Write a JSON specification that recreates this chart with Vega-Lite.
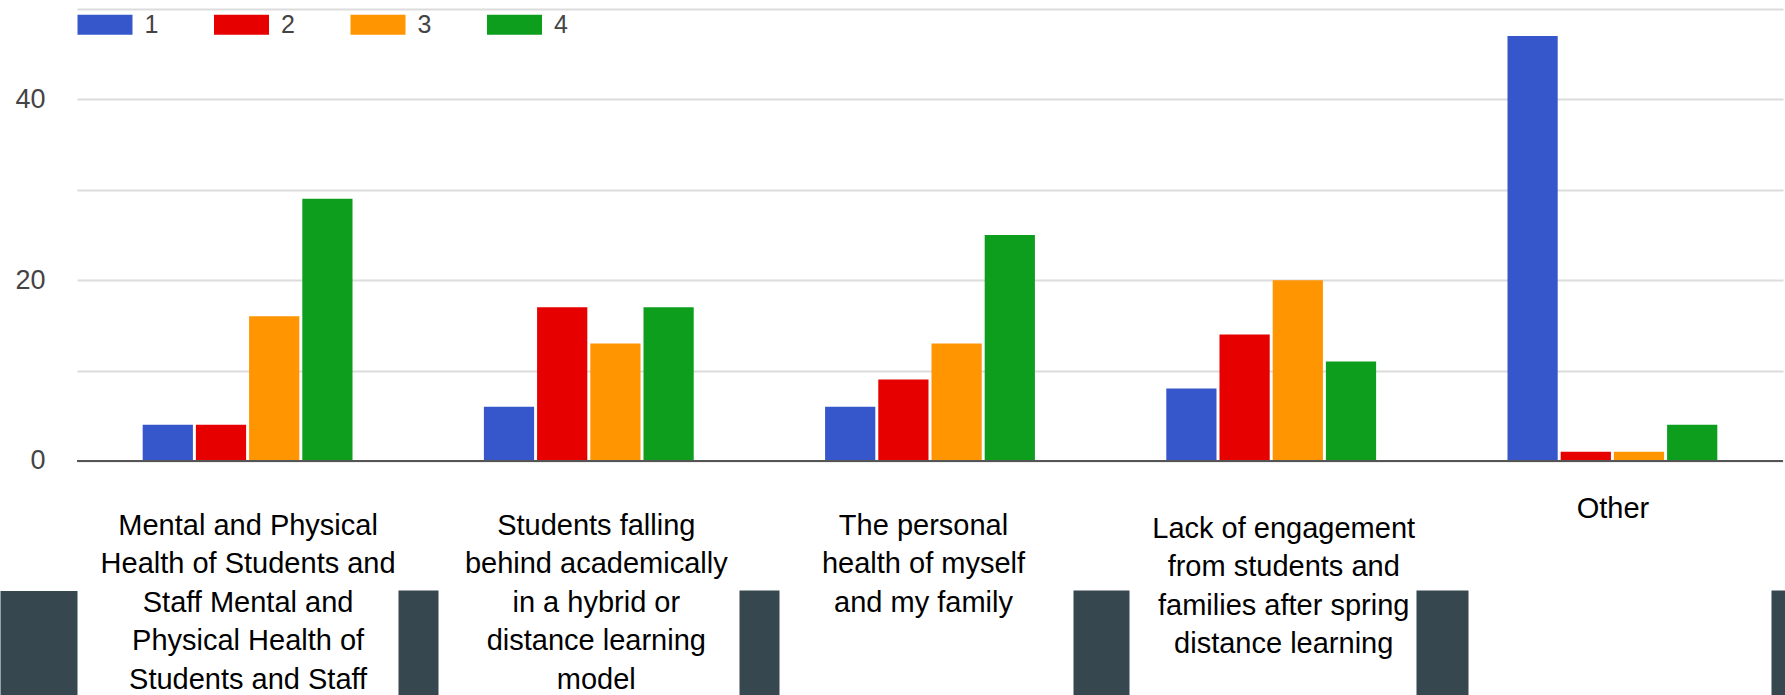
{
  "$schema": "https://vega.github.io/schema/vega-lite/v6.json",
  "width": 1706,
  "height": 686,
  "autosize": {"type": "none"},
  "padding": {"left": 77, "top": 9, "right": 2, "bottom": 0},
  "background": "white",
  "config": {
    "view": {"stroke": null},
    "font": "Liberation Sans"
  },
  "data": {
    "values": [
      {"cause": "Mental and Physical Health of Students and Staff Mental and Physical Health of Students and Staff", "rank": "1", "count": 4},
      {"cause": "Mental and Physical Health of Students and Staff Mental and Physical Health of Students and Staff", "rank": "2", "count": 4},
      {"cause": "Mental and Physical Health of Students and Staff Mental and Physical Health of Students and Staff", "rank": "3", "count": 16},
      {"cause": "Mental and Physical Health of Students and Staff Mental and Physical Health of Students and Staff", "rank": "4", "count": 29},
      {"cause": "Students falling behind academically in a hybrid or distance learning model", "rank": "1", "count": 6},
      {"cause": "Students falling behind academically in a hybrid or distance learning model", "rank": "2", "count": 17},
      {"cause": "Students falling behind academically in a hybrid or distance learning model", "rank": "3", "count": 13},
      {"cause": "Students falling behind academically in a hybrid or distance learning model", "rank": "4", "count": 17},
      {"cause": "The personal health of myself and my family", "rank": "1", "count": 6},
      {"cause": "The personal health of myself and my family", "rank": "2", "count": 9},
      {"cause": "The personal health of myself and my family", "rank": "3", "count": 13},
      {"cause": "The personal health of myself and my family", "rank": "4", "count": 25},
      {"cause": "Lack of engagement from students and families after spring distance learning", "rank": "1", "count": 8},
      {"cause": "Lack of engagement from students and families after spring distance learning", "rank": "2", "count": 14},
      {"cause": "Lack of engagement from students and families after spring distance learning", "rank": "3", "count": 20},
      {"cause": "Lack of engagement from students and families after spring distance learning", "rank": "4", "count": 11},
      {"cause": "Other", "rank": "1", "count": 47},
      {"cause": "Other", "rank": "2", "count": 1},
      {"cause": "Other", "rank": "3", "count": 1},
      {"cause": "Other", "rank": "4", "count": 4}
    ]
  },
  "layer": [
    {
      "mark": {"type": "bar"},
      "encoding": {
        "x": {
          "field": "cause",
          "type": "nominal",
          "sort": null,
          "scale": {"paddingInner": 0.385, "paddingOuter": 0.1925},
          "axis": {
            "orient": "bottom",
            "title": null,
            "domain": false,
            "offset": -105,
            "ticks": true,
            "tickOffset": 170.65,
            "tickSize": 105,
            "tickWidth": {
              "condition": [
                {"test": "datum.value === 'The personal health of myself and my family'", "value": 56},
                {"test": "datum.value === 'Lack of engagement from students and families after spring distance learning'", "value": 52},
                {"test": "datum.value === 'Other'", "value": 24}
              ],
              "value": 40
            },
            "tickColor": "#37474f",
            "tickCap": "butt",
            "grid": false,
            "labelAngle": 0,
            "labelOffset": {
              "condition": [
                {"test": "datum.value === 'Students falling behind academically in a hybrid or distance learning model'", "value": -163.65},
                {"test": "datum.value === 'The personal health of myself and my family'", "value": -177.65},
                {"test": "datum.value === 'Lack of engagement from students and families after spring distance learning'", "value": -158.65}
              ],
              "value": -170.65
            },
            "labelExpr": "datum.value === 'Mental and Physical Health of Students and Staff Mental and Physical Health of Students and Staff' ? ['Mental and Physical','Health of Students and','Staff Mental and','Physical Health of','Students and Staff'] : datum.value === 'Students falling behind academically in a hybrid or distance learning model' ? ['Students falling','behind academically','in a hybrid or','distance learning','model'] : datum.value === 'The personal health of myself and my family' ? ['The personal','health of myself','and my family'] : datum.value === 'Lack of engagement from students and families after spring distance learning' ? ['Lack of engagement','from students and','families after spring','distance learning'] : datum.label",
            "labelFont": "Liberation Sans",
            "labelFontSize": 29,
            "labelColor": "#000000",
            "labelLineHeight": 38.5,
            "labelBaseline": "top",
            "labelPadding": {
              "condition": [
                {"test": "datum.value === 'Other'", "value": -201},
                {"test": "datum.value === 'Lack of engagement from students and families after spring distance learning'", "value": -181}
              ],
              "value": -184
            },
            "labelLimit": 0,
            "labelOverlap": false,
            "labelFlush": false
          }
        },
        "xOffset": {
          "field": "rank",
          "type": "nominal",
          "scale": {"paddingInner": 0.056, "paddingOuter": 0}
        },
        "y": {
          "field": "count",
          "type": "quantitative",
          "scale": {"domain": [-25.9, 50], "nice": false, "zero": false},
          "axis": {
            "title": null,
            "values": [-20.13, 0, 10, 20, 30, 40, 50],
            "domain": false,
            "ticks": true,
            "tickSize": 77,
            "tickCap": "butt",
            "tickWidth": {"condition": {"test": "datum.value < 0", "value": 105}, "value": 0},
            "tickColor": {"condition": {"test": "datum.value < 0", "value": "#37474f"}, "value": "transparent"},
            "grid": true,
            "gridColor": {"condition": {"test": "datum.value < 0", "value": "transparent"}, "value": "#dcdcdc"},
            "gridWidth": 2,
            "labelExpr": "datum.value === 0 || datum.value === 20 || datum.value === 40 ? datum.label : ''",
            "labelFont": "Liberation Sans",
            "labelFontSize": 27,
            "labelColor": "#444444",
            "labelPadding": -45
          }
        },
        "y2": {"datum": 0},
        "color": {
          "field": "rank",
          "type": "nominal",
          "scale": {"domain": ["1", "2", "3", "4"], "range": ["#3657cc", "#e60000", "#ff9500", "#0c9e1c"]},
          "legend": {
            "orient": "none",
            "legendX": 15.5,
            "legendY": 3,
            "direction": "horizontal",
            "title": null,
            "symbolType": "M-2.75,-1H2.75V1H-2.75Z",
            "symbolSize": 400,
            "symbolStrokeWidth": 0,
            "labelFont": "Liberation Sans",
            "labelFontSize": 25,
            "labelColor": "#444444",
            "labelOffset": 27,
            "columnPadding": 55.5,
            "padding": 0
          }
        }
      }
    },
    {
      "data": {"values": [{}]},
      "mark": {"type": "rule", "color": "#555555", "strokeWidth": 2},
      "encoding": {"y": {"datum": 0}}
    }
  ]
}
